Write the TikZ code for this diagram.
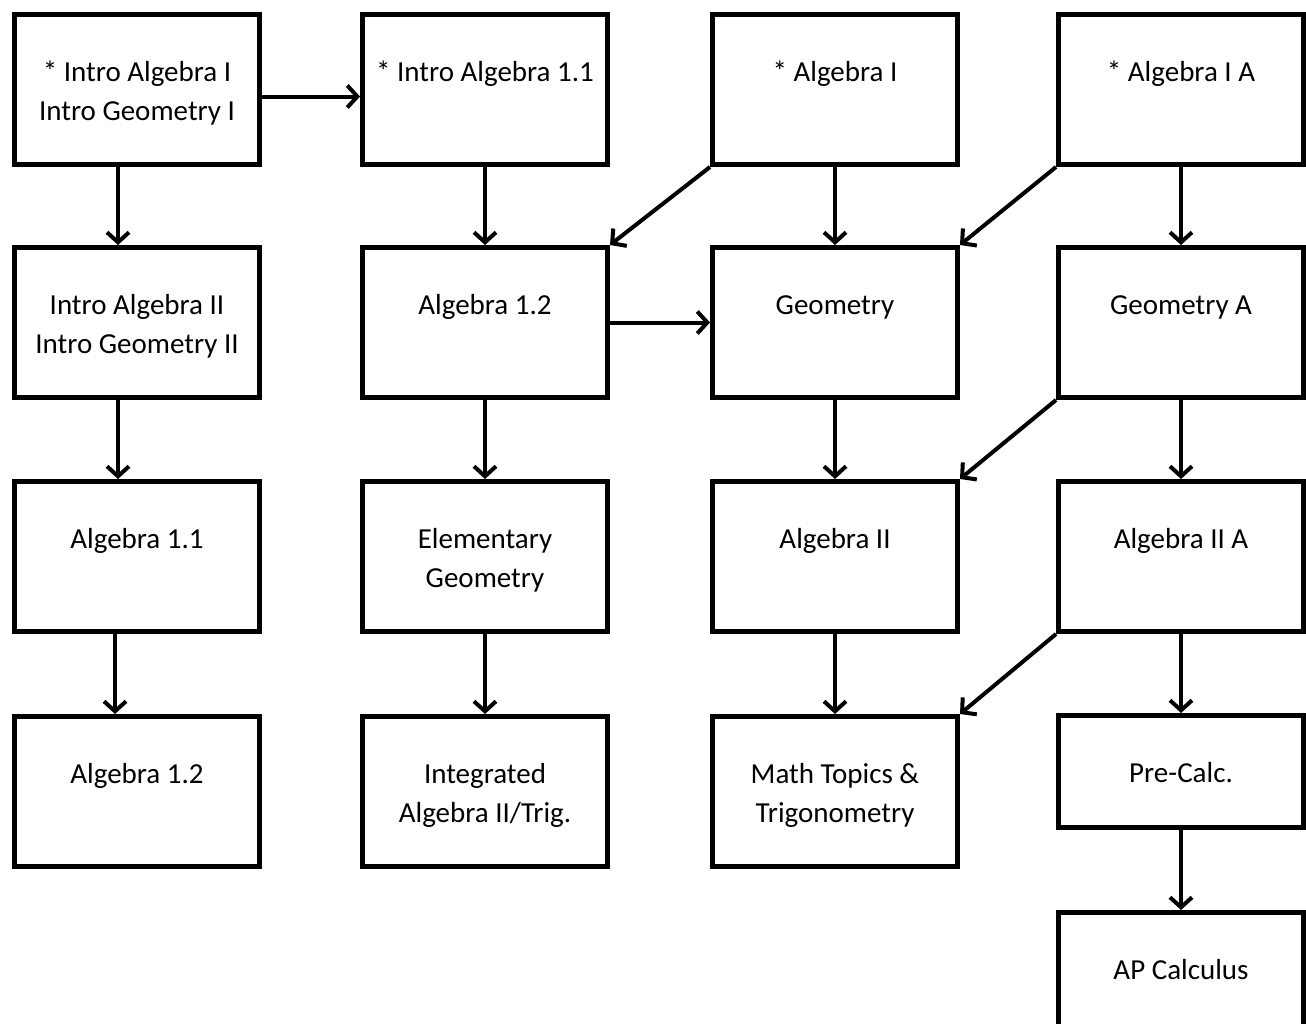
\documentclass[tikz,border=0pt]{standalone}
\usepackage{fontspec}
\setmainfont{Carlito}
\usepackage{tikz}
\usetikzlibrary{arrows.meta}

\begin{document}
\begin{tikzpicture}[x=1pt,y=-1pt,
  lbl/.style={anchor=north,yshift=-42pt,inner sep=0pt,align=center,
    font=\fontsize{29pt}{39pt}\selectfont},
  course/.style={draw,line width=5pt,minimum width=245pt,minimum height=150pt,
    inner sep=0pt,label={[lbl]north:\strut #1}},
  arr/.style={line width=4pt,-{Straight Barb[length=10pt,width=22pt]}}]
\useasboundingbox (0,0) rectangle (1306,1023);
% row 1
\node[course={* Intro Algebra I\\Intro Geometry I}] (ia1) at (137,89.5) {};
\node[course={* Intro Algebra 1.1}] (ia11) at (485,89.5) {};
\node[course={* Algebra I}] (alg1) at (835,89.5) {};
\node[course={* Algebra I A}] (alg1a) at (1181,89.5) {};
% row 2
\node[course={Intro Algebra II\\Intro Geometry II}] (ia2) at (137,322.5) {};
\node[course={Algebra 1.2}] (alg12) at (485,322.5) {};
\node[course={Geometry}] (geo) at (835,322.5) {};
\node[course={Geometry A}] (geoa) at (1181,322.5) {};
% row 3
\node[course={Algebra 1.1}] (alg11) at (137,556.5) {};
\node[course={Elementary\\Geometry}] (elgeo) at (485,556.5) {};
\node[course={Algebra II}] (alg2) at (835,556.5) {};
\node[course={Algebra II A}] (alg2a) at (1181,556.5) {};
% row 4
\node[course={Algebra 1.2}] (alg12b) at (137,791.5) {};
\node[course={Integrated\\Algebra II/Trig.}] (intalg) at (485,791.5) {};
\node[course={Math Topics \&\\Trigonometry}] (mtt) at (835,791.5) {};
\node[course={Pre-Calc.},minimum height=112pt] (precalc) at (1181,771.5) {};
\node[course={AP Calculus},minimum height=140pt] (apcalc) at (1181,982.5) {};
% first column
\draw[arr] ([xshift=-19pt]ia1.south) -- ([xshift=-19pt]ia2.north);
\draw[arr] ([xshift=-19pt]ia2.south) -- ([xshift=-19pt]alg11.north);
\draw[arr] ([xshift=-22pt]alg11.south) -- ([xshift=-22pt]alg12b.north);
\draw[arr] ([yshift=-7pt]ia1.east) -- ([yshift=-7pt]ia11.west);
% second column
\draw[arr] (ia11) -- (alg12);
\draw[arr] (alg12) -- (elgeo);
\draw[arr] (elgeo) -- (intalg);
\draw[arr] (alg12.east) -- (geo.west);
% third column
\draw[arr] (alg1.south west) -- (alg12.north east);
\draw[arr] (alg1) -- (geo);
\draw[arr] (geo) -- (alg2);
\draw[arr] (alg2) -- (mtt);
% fourth column
\draw[arr] (alg1a.south west) -- (geo.north east);
\draw[arr] (geoa.south west) -- (alg2.north east);
\draw[arr] (alg2a.south west) -- (mtt.north east);
\draw[arr] (alg1a) -- (geoa);
\draw[arr] (geoa) -- (alg2a);
\draw[arr] (alg2a) -- (precalc);
\draw[arr] (precalc) -- (apcalc);
\end{tikzpicture}
\end{document}
